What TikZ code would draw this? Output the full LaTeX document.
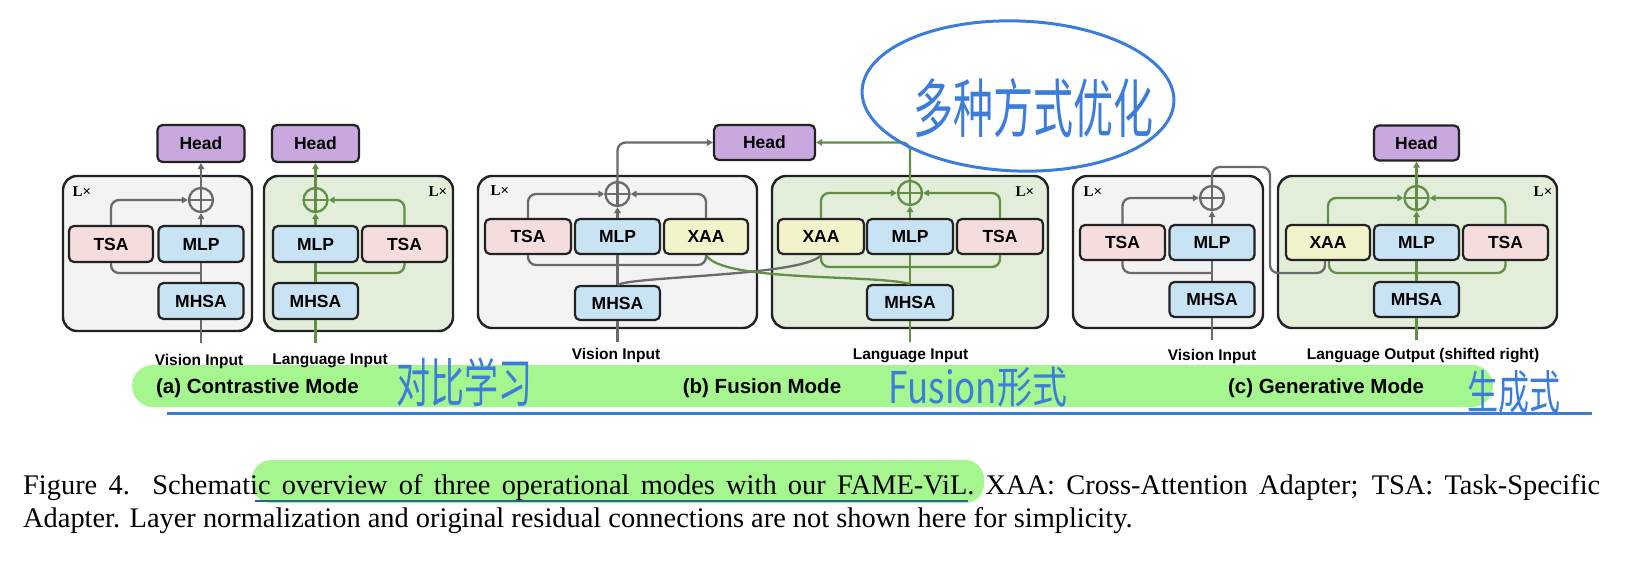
\documentclass[tikz,border=0pt]{standalone}
\usepackage{fontspec}
\setmainfont{Liberation Serif}
\newfontfamily\lsans{Liberation Sans}
\newfontfamily\cjk{Noto Sans CJK SC}
\usetikzlibrary{arrows.meta}
\definecolor{graylc}{HTML}{6A6A6A}
\definecolor{greenlc}{HTML}{628F45}
\definecolor{headfill}{HTML}{C9A8DF}
\definecolor{bluefill}{HTML}{C7E3F4}
\definecolor{pinkfill}{HTML}{F5DDDD}
\definecolor{yellowfill}{HTML}{F3F3CB}
\definecolor{outergray}{HTML}{F3F3F3}
\definecolor{outergreen}{HTML}{E2EEDA}
\definecolor{hlgreen}{HTML}{A6F68F}
\definecolor{annblue}{HTML}{3C7DDC}
\definecolor{edgec}{HTML}{222222}
\newcommand\bxfont{\lsans\bfseries\fontsize{17.5}{20}\selectfont}
\newcommand\infont{\lsans\bfseries\fontsize{15.5}{18}\selectfont}
\newcommand\modefont{\lsans\bfseries\fontsize{20.5}{24}\selectfont}
\newcommand\lxfont{\rmfamily\bfseries\fontsize{15}{17}\selectfont}
\newcommand\hwfont{\cjk\fontsize{38}{42}\selectfont}
\begin{document}
\begin{tikzpicture}[x=1pt,y=-1pt,
  blk/.style={draw=edgec, line width=2.2pt, rounded corners=5pt, minimum width=85pt, minimum height=35pt, inner sep=0pt, font=\bxfont},
  headbox/.style={blk, fill=headfill},
  bluebox/.style={blk, fill=bluefill},
  pinkbox/.style={blk, fill=pinkfill},
  yelbox/.style={blk, fill=yellowfill},
  outerg/.style={draw=edgec, line width=2.4pt, rounded corners=14pt, fill=outergray, inner sep=0pt},
  outergr/.style={draw=edgec, line width=2.4pt, rounded corners=14pt, fill=outergreen, inner sep=0pt},
  gl/.style={draw=graylc, line width=2.3pt, rounded corners=8pt},
  grl/.style={draw=greenlc, line width=2.3pt, rounded corners=8pt},
  arr/.style={-{Triangle[length=6pt,width=6.5pt]}},
  plusg/.style={circle, draw=graylc, line width=2.3pt, minimum size=24pt, inner sep=0pt,
     path picture={\draw[graylc, line width=2.3pt] (path picture bounding box.north) -- (path picture bounding box.south) (path picture bounding box.west) -- (path picture bounding box.east);}},
  plusgr/.style={circle, draw=greenlc, line width=2.3pt, minimum size=24pt, inner sep=0pt,
     path picture={\draw[greenlc, line width=2.3pt] (path picture bounding box.north) -- (path picture bounding box.south) (path picture bounding box.west) -- (path picture bounding box.east);}},
  lx/.style={font=\lxfont, inner sep=0pt},
  inlab/.style={font=\infont, inner sep=0pt},
  modelab/.style={font=\modefont, inner sep=0pt},
  hw/.style={font=\hwfont, text=annblue, inner sep=0pt},
  capt/.style={font=\fontsize{28.4}{33}\selectfont, inner sep=0pt, anchor=base west}
]
\useasboundingbox (0,0) rectangle (1632,564);
\fill[white] (0,0) rectangle (1632,564);

% highlights and annotation lines
\fill[hlgreen, rounded corners=21pt] (132,365) rectangle (1493,407);
\draw[annblue, line width=3pt] (167,413) -- (1592,413);
\fill[hlgreen, rounded corners=19pt] (252,460) rectangle (984,503);
\draw[annblue!70!black!90!green, line width=2.5pt] (255,501) -- (968,501);

% ---------- (a) contrastive ----------
\node[outerg, minimum width=189pt, minimum height=155pt] (aVbox) at (157.5,253.5) {};
\node[outergr, minimum width=189pt, minimum height=155pt] (aLbox) at (358.5,253.5) {};
\node[lx] (aVlx) at (82,192) {L×};
\node[lx] (aLlx) at (438,192) {L×};

\coordinate (aVin) at (201,343);
\coordinate (aVj) at (201,273);
\coordinate (aLin) at (315.5,343);
\coordinate (aLj) at (315.5,273);

\node[headbox, minimum width=87pt, minimum height=37pt] (aVHead) at (201,143.5) {Head};
\node[pinkbox, minimum width=84pt, minimum height=36pt] (aVTSA) at (111,244) {TSA};
\node[bluebox, minimum height=36pt] (aVMLP) at (201,244) {MLP};
\node[bluebox, minimum height=36pt] (aVMHSA) at (201,301) {MHSA};
\node[plusg] (aVplus) at (201,200) {};

\node[headbox, minimum width=87pt, minimum height=37pt] (aLHead) at (315.5,143.5) {Head};
\node[bluebox, minimum height=36pt] (aLMLP) at (315.5,244) {MLP};
\node[pinkbox, minimum height=36pt] (aLTSA) at (404.5,244) {TSA};
\node[bluebox, minimum height=36pt] (aLMHSA) at (315.5,301) {MHSA};
\node[plusgr] (aLplus) at (315.5,200) {};

\draw[gl] (aVin) -- (aVMHSA.south);
\draw[gl] (aVMHSA.north) -- (aVMLP.south);
\draw[gl] (aVj) -| (aVTSA.south);
\draw[gl,arr] (aVTSA.north) |- (aVplus.west);
\draw[gl,arr] (aVMLP.north) -- (aVplus.south);
\draw[gl,arr] (aVplus.north) -- (aVHead.south);

\draw[grl] (aLin) -- (aLMHSA.south);
\draw[grl] (aLMHSA.north) -- (aLMLP.south);
\draw[grl] (aLj) -| (aLTSA.south);
\draw[grl,arr] (aLTSA.north) |- (aLplus.east);
\draw[grl,arr] (aLMLP.north) -- (aLplus.south);
\draw[grl,arr] (aLplus.north) -- (aLHead.south);

\node[inlab] (aVlab) at (199,361) {Vision Input};
\node[inlab] (aLlab) at (330,361) {Language Input};

% ---------- (b) fusion ----------
\node[outerg, minimum width=279pt, minimum height=152pt] (bVbox) at (617.5,252) {};
\node[outergr, minimum width=276pt, minimum height=152pt] (bLbox) at (910,252) {};
\node[lx] (bVlx) at (500,191) {L×};
\node[lx] (bLlx) at (1025,192) {L×};

\coordinate (bVin) at (617.5,342);
\coordinate (bVj) at (617.5,265);
\coordinate (bLin) at (910,342);
\coordinate (bLj) at (910,267);

\node[headbox, minimum width=101pt] (bHead) at (764.5,142.5) {Head};
\node[pinkbox, minimum width=86pt] (bVTSA) at (528,236.5) {TSA};
\node[bluebox] (bVMLP) at (617.5,236.5) {MLP};
\node[yelbox, minimum width=84pt] (bVXAA) at (706,236.5) {XAA};
\node[bluebox, minimum height=34pt] (bVMHSA) at (617.5,303) {MHSA};
\node[plusg] (bVplus) at (617.5,194) {};

\node[yelbox, minimum width=86pt] (bLXAA) at (821,236.5) {XAA};
\node[bluebox, minimum width=86pt] (bLMLP) at (910,236.5) {MLP};
\node[pinkbox, minimum width=86pt] (bLTSA) at (1000,236.5) {TSA};
\node[bluebox, minimum width=86pt] (bLMHSA) at (910,302.5) {MHSA};
\node[plusgr] (bLplus) at (910,193) {};

\draw[gl] (bVin) -- (bVMHSA.south);
\draw[gl] (bVMHSA.north) .. controls (635,276) and (805,276) .. (bLXAA.south);
\draw[grl] (bVXAA.south) .. controls (722,282) and (870,274) .. (bLMHSA.north);

\draw[gl] (bVMHSA.north) -- (bVMLP.south);
\draw[gl] (bVTSA.south) |- (bVj) -| (bVXAA.south);
\draw[gl,arr] (bVTSA.north) |- (bVplus.west);
\draw[gl,arr] (bVXAA.north) |- (bVplus.east);
\draw[gl,arr] (bVMLP.north) -- (bVplus.south);
\draw[gl,arr] (bVplus.north) |- (bHead.west);

\draw[grl] (bLin) -- (bLMHSA.south);
\draw[grl] (bLMHSA.north) -- (bLMLP.south);
\draw[grl] (bLXAA.south) |- (bLj) -| (bLTSA.south);
\draw[grl,arr] (bLXAA.north) |- (bLplus.west);
\draw[grl,arr] (bLTSA.north) |- (bLplus.east);
\draw[grl,arr] (bLMLP.north) -- (bLplus.south);
\draw[grl,arr] (bLplus.north) |- (bHead.east);

\node[inlab] (bVlab) at (616,355) {Vision Input};
\node[inlab] (bLlab) at (910.5,356) {Language Input};

% ---------- (c) generative ----------
\node[outerg, minimum width=190pt, minimum height=152pt] (cVbox) at (1168,252) {};
\node[outergr, minimum width=279pt, minimum height=152pt] (cLbox) at (1417.5,252) {};
\node[lx] (cVlx) at (1093,192) {L×};
\node[lx] (cLlx) at (1543,192) {L×};

\coordinate (cVin) at (1212,340);
\coordinate (cVj) at (1212,273);
\coordinate (cG1) at (1270,167);
\coordinate (cG2) at (1270,273);
\coordinate (cLin) at (1416.5,340);
\coordinate (cLj) at (1416.5,273);

\node[headbox] (cHead) at (1416.5,143) {Head};
\node[pinkbox] (cVTSA) at (1122.5,242.5) {TSA};
\node[bluebox] (cVMLP) at (1212,242.5) {MLP};
\node[bluebox] (cVMHSA) at (1212,299.5) {MHSA};
\node[plusg] (cVplus) at (1212,198) {};

\node[yelbox, minimum width=84pt] (cLXAA) at (1328,242.5) {XAA};
\node[bluebox] (cLMLP) at (1416.5,242.5) {MLP};
\node[pinkbox] (cLTSA) at (1505.5,242.5) {TSA};
\node[bluebox] (cLMHSA) at (1416.5,299.5) {MHSA};
\node[plusgr] (cLplus) at (1416.5,198) {};

\draw[gl] (cVin) -- (cVMHSA.south);
\draw[gl] (cVMHSA.north) -- (cVMLP.south);
\draw[gl] (cVj) -| (cVTSA.south);
\draw[gl,arr] (cVTSA.north) |- (cVplus.west);
\draw[gl,arr] (cVMLP.north) -- (cVplus.south);
\draw[gl] (cVplus.north) |- (cG1) -- (cG2) -| ([xshift=-3pt]cLXAA.south);

\draw[grl] (cLin) -- (cLMHSA.south);
\draw[grl] (cLMHSA.north) -- (cLMLP.south);
\draw[grl] ([xshift=1pt]cLXAA.south) |- (cLj) -| (cLTSA.south);
\draw[grl,arr] (cLXAA.north) |- (cLplus.west);
\draw[grl,arr] (cLTSA.north) |- (cLplus.east);
\draw[grl,arr] (cLMLP.north) -- (cLplus.south);
\draw[grl,arr] (cLplus.north) -- (cHead.south);

\node[inlab] (cVlab) at (1212,356) {Vision Input};
\node[inlab] (cLlab) at (1423,356) {Language Output (shifted right)};

% mode labels
\node[modelab] (amode) at (257.5,388) {(a) Contrastive Mode};
\node[modelab] (bmode) at (762,388) {(b) Fusion Mode};
\node[modelab] (cmode) at (1326,388) {(c) Generative Mode};

% handwritten annotations
\draw[annblue, line width=3pt, rotate around={-2:(1018,96)}] (1018,96) ellipse [x radius=156, y radius=75];
\node[hw, font=\cjk\fontsize{40}{44}\selectfont] (hw1) at (1033,108) {\scalebox{1}[1.6]{多种方式优化}};
\node[hw, font=\cjk\fontsize{34}{38}\selectfont] (hw2) at (464,382) {\scalebox{1}[1.55]{对比学习}};
\node[hw, font=\cjk\fontsize{35}{38}\selectfont] (hw3) at (978,387) {\scalebox{1}[1.25]{Fusion形式}};
\node[hw, font=\cjk\fontsize{31}{34}\selectfont] (hw4) at (1514,392) {\scalebox{1}[1.5]{生成式}};

% caption
\node[capt] (cap1) at (23,494) {\makebox[1577pt][s]{Figure 4.\ \ Schematic overview of three operational modes with our FAME-ViL. XAA: Cross-Attention Adapter; TSA: Task-Specific}};
\node[capt] (cap2) at (23,527) {Adapter. Layer normalization and original residual connections are not shown here for simplicity.};
\end{tikzpicture}
\end{document}
